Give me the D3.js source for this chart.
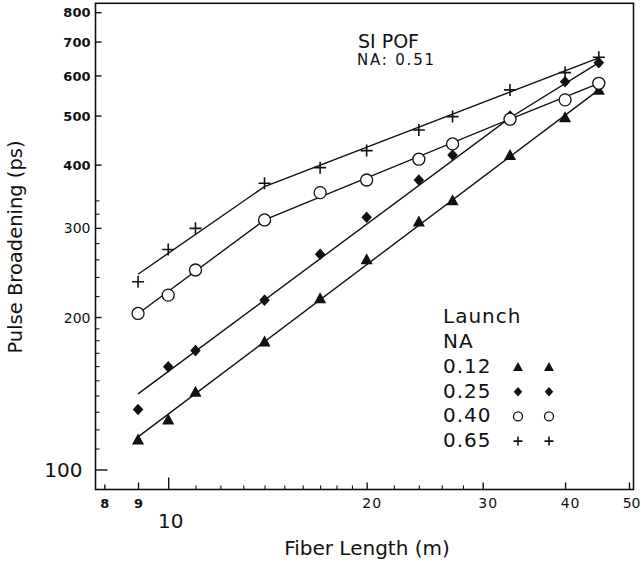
<!DOCTYPE html>
<html><head><meta charset="utf-8">
<script src="https://cdn.jsdelivr.net/npm/d3@7"></script>
<style>
html,body{margin:0;padding:0;background:#fff;}
svg text{font-family:"DejaVu Sans",sans-serif;fill:#111;}
</style></head>
<body><svg id="c" width="641" height="569"></svg>
<script>
// ---- data ----
const fiberLength = [9, 10, 11, 14, 17, 20, 24, 27, 33, 40, 45];
const na012 = [114.6, 125.5, 142.3, 179, 217.8, 260, 308.6, 340, 418, 496, 562];
const na025 = [131.4, 159.5, 171.7, 216, 266, 314.8, 373, 418, 499, 583, 636];
const na040 = [203.3, 221, 247.7, 311, 352.2, 373, 410, 439.5, 491.8, 537, 579];
const na065 = [234.9, 272, 299.4, 367.4, 394.5, 426.3, 468.3, 497.6, 561.8, 607.8, 652];
// fitted trend lines (vertices: [length, ps])
const fit012 = [[9, 116], [45, 562]];
const fit025 = [[9, 141], [33, 495], [45, 636]];
const fit040 = [[9, 203], [14, 311], [33, 492], [45, 579]];
const fit065 = [[9, 243], [14, 362], [45, 650]];
const seriesNames = ["0.12", "0.25", "0.40", "0.65"];
const xTicks = [8, 9, 10, 20, 30, 40, 50];
const xMinor = [11, 12, 13, 14, 15, 16, 17, 18, 19, 22, 24, 26, 28];
const yTicks = [100, 200, 300, 400, 500, 600, 700, 800];
const yMinor = [110, 120, 130, 140, 150, 160, 170, 180, 190, 220, 240, 260, 280, 320, 340];

const svg = d3.select("#c");
const L = 95.5, R = 633.5, T = 3.3, B = 489.5;
const x = d3.scaleLog().domain([7.757, 50.8]).range([L, R]);
const y = d3.scaleLog().domain([91.3, 833]).range([B, T]);

// frame
svg.append("rect").attr("x", L).attr("y", T).attr("width", R - L).attr("height", B - T)
  .attr("fill", "none").attr("stroke", "#111").attr("stroke-width", 1.6);

// y axis major
const yAx = svg.append("g").attr("transform", `translate(${L},0)`)
  .call(d3.axisLeft(y).tickValues(yTicks).tickSize(-6).tickPadding(0).tickFormat(d3.format("d")));
yAx.select(".domain").remove();
yAx.selectAll(".tick line").attr("stroke", "#111").attr("stroke-width", 1.4)
  .attr("x2", d => d === 100 ? 12 : 6);
yAx.selectAll(".tick text").attr("x", d => d === 100 ? -13 : -5)
  .attr("dy", "0.36em")
  .style("font-size", d => d === 100 ? "20px" : (d >= 400 ? "13px" : "14px"))
  .style("font-weight", d => d >= 400 ? "bold" : "normal")
  .attr("fill", "#111");
// y minor
const yMi = svg.append("g").attr("transform", `translate(${L},0)`)
  .call(d3.axisLeft(y).tickValues(yMinor).tickSize(-4).tickFormat(""));
yMi.select(".domain").remove();
yMi.selectAll(".tick line").attr("stroke", "#111").attr("stroke-width", 1.1);

// x axis major
const xAx = svg.append("g").attr("transform", `translate(0,${B})`)
  .call(d3.axisBottom(x).tickValues(xTicks).tickSize(-7).tickPadding(0).tickFormat(d3.format("d")));
xAx.select(".domain").remove();
xAx.selectAll(".tick line").attr("stroke", "#111").attr("stroke-width", 1.4)
  .attr("y2", d => d === 10 ? -12 : (d === 8 ? -5 : -7));
xAx.selectAll(".tick text")
  .attr("y", d => d === 10 ? 38 : 18)
  .attr("x", d => d === 50 ? 640 - x(50) : (d >= 20 ? 5 : (d === 10 ? 2 : 0)))
  .attr("text-anchor", d => d === 50 ? "end" : "middle")
  .attr("dy", 0)
  .style("font-size", d => d === 10 ? "20px" : (d < 10 ? "13px" : "14px"))
  .style("font-weight", d => d < 10 ? "bold" : "normal")
  .style("letter-spacing", d => d >= 20 && d < 50 ? "1px" : "0px")
  .attr("fill", "#111");
const xMi = svg.append("g").attr("transform", `translate(0,${B})`)
  .call(d3.axisBottom(x).tickValues(xMinor).tickSize(-4).tickFormat(""));
xMi.select(".domain").remove();
xMi.selectAll(".tick line").attr("stroke", "#111").attr("stroke-width", 1.1);

// axis titles
svg.append("text").attr("x", 367).attr("y", 555).attr("text-anchor", "middle")
  .style("font-size", "20px").text("Fiber Length (m)");
svg.append("text").attr("transform", "translate(22,247) rotate(-90)").attr("text-anchor", "middle")
  .style("font-size", "19.5px").text("Pulse Broadening (ps)");

// annotation
svg.append("text").attr("x", 358).attr("y", 48).style("font-size", "19px").text("SI POF");
svg.append("text").attr("x", 357).attr("y", 65).style("font-size", "15px")
  .style("letter-spacing", "1.8px").text("NA: 0.51");

// lines
const line = d3.line().x(d => x(d[0])).y(d => y(d[1]));
[fit012, fit025, fit040, fit065].forEach(f => {
  svg.append("path").attr("d", line(f)).attr("fill", "none")
    .attr("stroke", "#111").attr("stroke-width", 1.4);
});

// markers
function drawMarker(g, type, cx, cy, s) {
  if (type === "tri") {
    g.append("path").attr("d", `M${cx},${cy - s * 0.55}L${cx + s * 0.55},${cy + s * 0.45}L${cx - s * 0.55},${cy + s * 0.45}Z`)
      .attr("fill", "#111");
  } else if (type === "dia") {
    g.append("path").attr("d", `M${cx},${cy - s * 0.55}L${cx + s * 0.5},${cy}L${cx},${cy + s * 0.55}L${cx - s * 0.5},${cy}Z`)
      .attr("fill", "#111");
  } else if (type === "cir") {
    g.append("circle").attr("cx", cx).attr("cy", cy).attr("r", s * 0.5)
      .attr("fill", "#fff").attr("stroke", "#111").attr("stroke-width", 1.3);
  } else {
    g.append("path").attr("d", `M${cx - s * 0.5},${cy}H${cx + s * 0.5}M${cx},${cy - s * 0.5}V${cy + s * 0.5}`)
      .attr("stroke", "#111").attr("stroke-width", 1.6);
  }
}
const types = ["tri", "dia", "cir", "plus"];
const sizes = [11, 10.5, 12, 12];
const gm = svg.append("g");
[na012, na025, na040, na065].forEach((vals, i) => {
  vals.forEach((v, j) => drawMarker(gm, types[i], x(fiberLength[j]), y(v), sizes[i]));
});

// legend
const lg = svg.append("g");
lg.append("text").attr("x", 443).attr("y", 323).style("font-size", "20px").style("letter-spacing", "1px").text("Launch");
lg.append("text").attr("x", 443).attr("y", 348).style("font-size", "20px").style("letter-spacing", "1px").text("NA");
seriesNames.forEach((n, i) => {
  const by = 373 + i * 24.7;
  lg.append("text").attr("x", 443).attr("y", by).style("font-size", "20px").style("letter-spacing", "1px").text(n);
  drawMarker(lg, types[i], 518, by - 6, [9, 8.5, 9, 9][i]);
  drawMarker(lg, types[i], 549, by - 6, [9, 8.5, 9, 9][i]);
});
</script></body></html>
